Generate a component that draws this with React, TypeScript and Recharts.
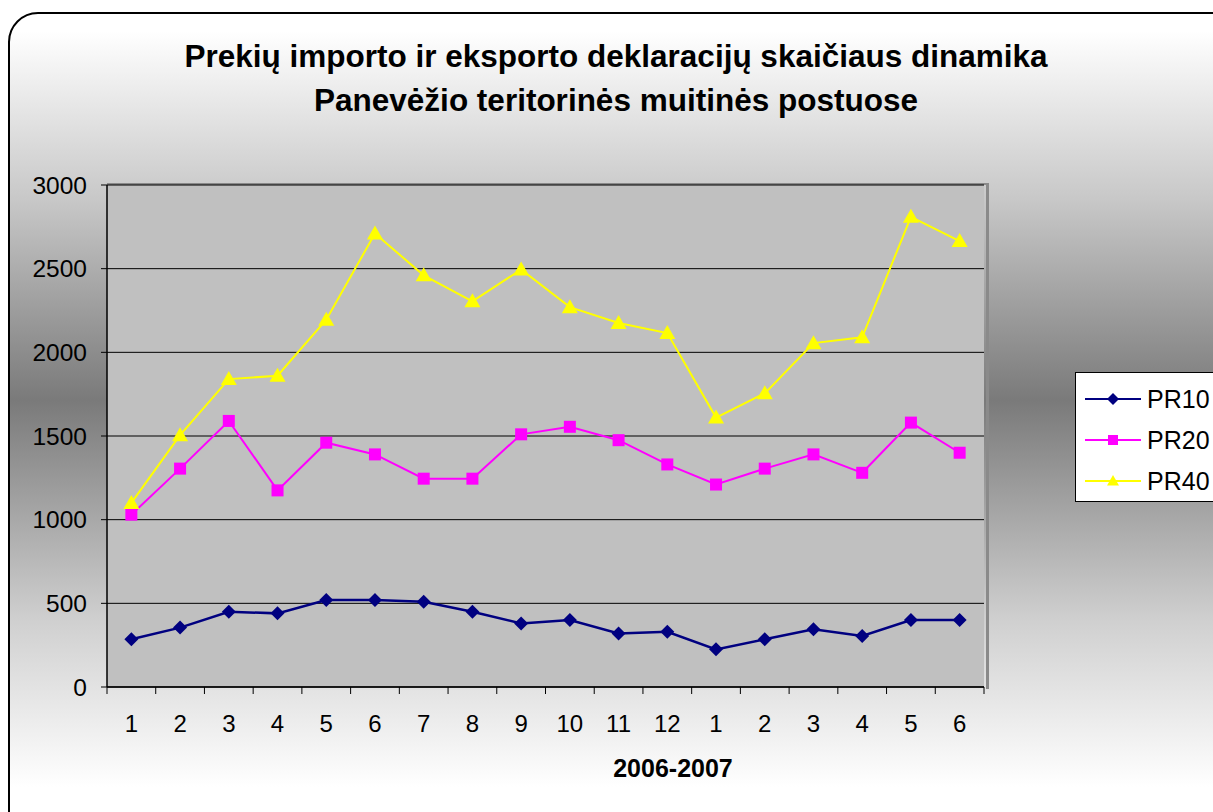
import React from "react";
import { LineChart, Line, XAxis, YAxis, CartesianGrid, Legend } from "recharts";

const months = ["1", "2", "3", "4", "5", "6", "7", "8", "9", "10", "11", "12", "1", "2", "3", "4", "5", "6"];
const pr10 = [285, 355, 450, 440, 520, 520, 510, 450, 380, 400, 320, 330, 225, 285, 345, 305, 400, 400];
const pr20 = [1030, 1305, 1590, 1175, 1460, 1390, 1245, 1245, 1510, 1555, 1475, 1330, 1210, 1305, 1390, 1280, 1580, 1400];
const pr40 = [1100, 1505, 1840, 1860, 2195, 2710, 2460, 2305, 2495, 2270, 2175, 2115, 1610, 1755, 2055, 2090, 2810, 2665];
const yTicks = [0, 500, 1000, 1500, 2000, 2500, 3000];

const seriesNames = ["PR10", "PR20", "PR40"];
const seriesColors = ["#000080", "#ff00ff", "#ffff00"];

const data = months.map((m, i) => ({ idx: i, month: m, PR10: pr10[i], PR20: pr20[i], PR40: pr40[i] }));

const FONT = "'Liberation Sans', Arial, sans-serif";
const W = 1213;
const H = 812;
const PLOT_LEFT = 107;
const PLOT_RIGHT = 984;
const PLOT_TOP = 185;
const PLOT_BOTTOM = 687;
const BAND = (PLOT_RIGHT - PLOT_LEFT) / months.length;

function Diamond({ cx, cy, color, r = 7 }: any) {
  if (cx == null || cy == null) return null;
  return <polygon points={`${cx},${cy - r} ${cx + r},${cy} ${cx},${cy + r} ${cx - r},${cy}`} fill={color} />;
}

function Square({ cx, cy, color, r = 6 }: any) {
  if (cx == null || cy == null) return null;
  return <rect x={cx - r} y={cy - r} width={r * 2} height={r * 2} fill={color} />;
}

function Triangle({ cx, cy, color, r = 8 }: any) {
  if (cx == null || cy == null) return null;
  return <polygon points={`${cx},${cy - r} ${cx + r},${cy + r * 0.75} ${cx - r},${cy + r * 0.75}`} fill={color} />;
}

const markers = [Diamond, Square, Triangle];

function XTick(props: any) {
  const { x, y, payload, index } = props;
  const last = index === months.length - 1;
  return (
    <g>
      <line x1={x - BAND / 2} x2={x - BAND / 2} y1={y} y2={y + 7} stroke="#000" />
      {last && <line x1={x + BAND / 2} x2={x + BAND / 2} y1={y} y2={y + 7} stroke="#000" />}
      <text x={x} y={y + 45} textAnchor="middle" fontSize={24} fontFamily={FONT} fill="#000">
        {months[payload.value]}
      </text>
    </g>
  );
}

function LegendBox() {
  return (
    <div
      style={{
        width: 150,
        height: 130,
        background: "#fff",
        border: "1px solid #000",
        boxSizing: "border-box",
      }}
    >
      <svg width={150} height={128} style={{ display: "block" }}>
        {seriesNames.map((name, i) => {
          const y = 26 + i * 41;
          const M = markers[i];
          return (
            <g key={name}>
              <line x1={9} x2={65} y1={y} y2={y} stroke={seriesColors[i]} strokeWidth={2} />
              <M cx={37} cy={y} color={seriesColors[i]} r={i === 1 ? 5 : 6} />
              <text x={71} y={y + 9} fontSize={25} fontFamily={FONT} fill="#000">
                {name}
              </text>
            </g>
          );
        })}
      </svg>
    </div>
  );
}

export default function App() {
  return (
    <div style={{ position: "absolute", left: 0, top: 0, width: W, height: H, overflow: "hidden", background: "#fff" }}>
      <div
        style={{
          position: "absolute",
          left: 8,
          top: 12,
          width: 1240,
          height: 840,
          borderRadius: 30,
          border: "2px solid #000",
          background: "linear-gradient(to bottom, #ffffff 2%, #c8c8c8 22%, #7a7a7a 46%, #cfcfcf 72%, #ffffff 92%)",
        }}
      />
      <div
        style={{
          position: "absolute",
          left: 0,
          width: 1232,
          top: 34,
          textAlign: "center",
          fontFamily: FONT,
          fontWeight: "bold",
          fontSize: 31.5,
          lineHeight: "44px",
          color: "#000",
        }}
      >
        <div>Prekių importo ir eksporto deklaracijų skaičiaus dinamika</div>
        <div>Panevėžio teritorinės muitinės postuose</div>
      </div>
      <div
        style={{
          position: "absolute",
          left: PLOT_LEFT,
          top: PLOT_TOP - 2,
          width: PLOT_RIGHT - PLOT_LEFT + 2,
          height: PLOT_BOTTOM - PLOT_TOP + 2,
          borderTop: "2px solid #8a8a8a",
          borderRight: "3px solid #8a8a8a",
        }}
      />
      <div style={{ position: "absolute", left: 0, top: 0 }}>
        <LineChart
          width={W}
          height={H}
          data={data}
          margin={{ top: PLOT_TOP, right: W - PLOT_RIGHT, bottom: 25, left: PLOT_LEFT - 60 }}
        >
          <CartesianGrid vertical={false} stroke="#000" fill="#c0c0c0" strokeOpacity={1} />
          <XAxis
            dataKey="idx"
            type="category"
            scale="band"
            height={H - PLOT_BOTTOM - 25}
            axisLine={{ stroke: "#000", strokeWidth: 1.5 }}
            tickLine={false}
            tickSize={0}
            tickMargin={0}
            interval={0}
            tick={<XTick />}
          />
          <YAxis
            width={60}
            domain={[0, 3000]}
            ticks={yTicks}
            axisLine={{ stroke: "#000", strokeWidth: 1.5 }}
            tickLine={{ stroke: "#000" }}
            tickSize={6}
            tickMargin={14}
            tick={{ fontSize: 24.5, fontFamily: FONT, fill: "#000" }}
          />
          <Legend
            layout="horizontal"
            verticalAlign="middle"
            align="center"
            content={<LegendBox />}
            wrapperStyle={{ position: "absolute", left: 1075, top: 372, width: 150, height: 130 }}
          />
          {seriesNames.map((name, i) => {
            const M = markers[i];
            return (
              <Line
                key={name}
                type="linear"
                dataKey={name}
                stroke={seriesColors[i]}
                strokeWidth={i === 0 ? 2.5 : 2}
                dot={(p: any) => <M key={p.index} cx={p.cx} cy={p.cy} color={seriesColors[i]} />}
                activeDot={false}
                isAnimationActive={false}
              />
            );
          })}
        </LineChart>
      </div>
      <div
        style={{
          position: "absolute",
          left: 673,
          top: 754,
          transform: "translateX(-50%)",
          fontFamily: FONT,
          fontWeight: "bold",
          fontSize: 25,
          color: "#000",
        }}
      >
        2006-2007
      </div>
    </div>
  );
}
